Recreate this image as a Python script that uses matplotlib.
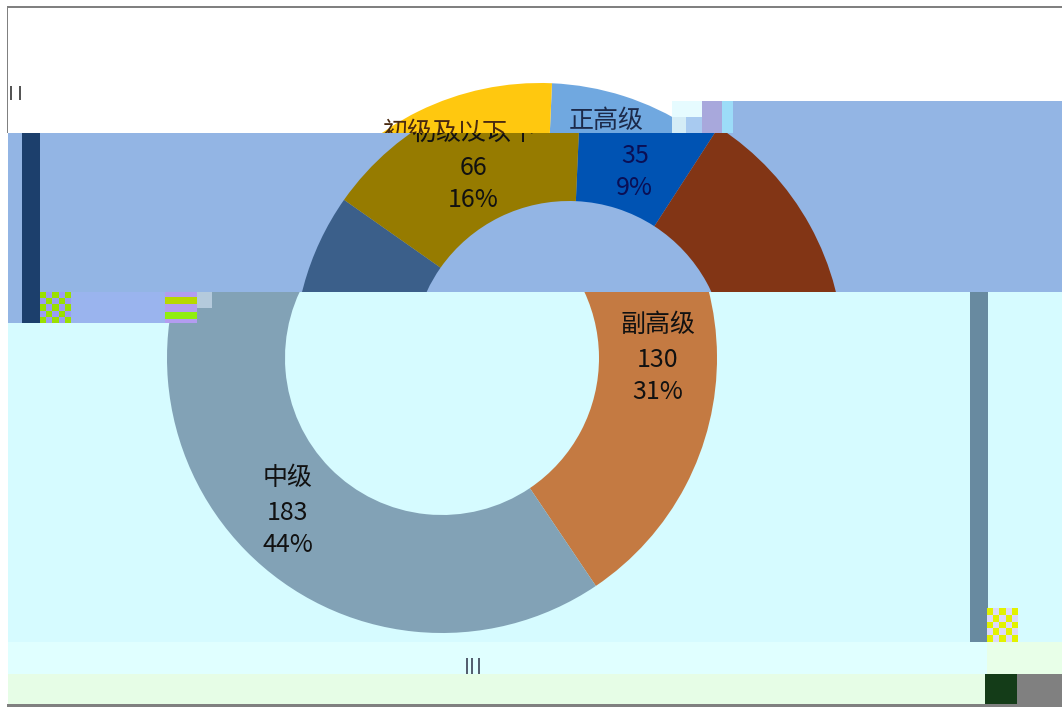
import matplotlib
matplotlib.use('Agg')
import matplotlib.pyplot as plt
from matplotlib.patches import Rectangle
from matplotlib.transforms import Bbox, TransformedBbox
import numpy as np

plt.rcParams['font.family'] = ['Noto Sans CJK SC', 'DejaVu Sans']

names = ['正高级', '副高级', '中级', '初级及以下']
values = [35, 130, 183, 66]
percents = ['9%', '31%', '44%', '16%']

top_colors = ['#70a8e0', '#c47a42', '#82a2b6', '#ffc80f']
mid_colors = ['#0053b3', '#823515', '#3b5f8a', '#967b00']
low_colors = ['#70a8e0', '#c47a42', '#82a2b6', '#ffc80f']
mid_text = ['#0a0f55', '#111111', '#111111', '#111111']

fig = plt.figure(figsize=(10.62, 7.07), dpi=100)
ax = fig.add_axes([0, 0, 1, 1])

R = 275
HOLE = 157
CY = 358
TILT = 2.5


def box(x0, y0, x1, y1, color, z=1):
    ax.add_patch(Rectangle((x0, y0), x1 - x0, y1 - y0, facecolor=color, edgecolor='none', zorder=z))


def band(cx, y0, y1, colors, text_colors):
    # the picture is broken into strips, each one holds the donut at another x
    clip = TransformedBbox(Bbox([[0, y0], [1062, y1]]), ax.transData)
    wedges, _ = ax.pie(values, colors=colors, center=(cx, CY), radius=R, startangle=-90 + TILT,
                       counterclock=True, wedgeprops={'width': R - HOLE, 'linewidth': 0})
    for w in wedges:
        w.set_zorder(2)
        w.set_clip_on(True)
        w.set_clip_box(clip)
    total = sum(values)
    start = TILT
    for i in range(len(values)):
        sweep = values[i] / total * 360
        a = np.radians(start + sweep / 2)
        start += sweep
        x = cx + (R + HOLE) / 2 * np.sin(a)
        y = CY - (R + HOLE) / 2 * np.cos(a) + 4
        for dy, s in [(-35, names[i]), (0, str(values[i])), (32, percents[i])]:
            t = ax.text(x, y + dy, s, ha='center', va='center', fontsize=18, color=text_colors[i], zorder=3)
            t.set_clip_on(True)
            t.set_clip_box(clip)


def checks(x0, y0, x1, y1, base, spot, nx, ny):
    box(x0, y0, x1, y1, base, 4)
    dx = (x1 - x0) / nx
    dy = (y1 - y0) / ny
    for j in range(ny):
        for i in range(nx):
            if (i + j) % 2 == 0:
                box(x0 + i * dx, y0 + j * dy, x0 + (i + 1) * dx, y0 + (j + 1) * dy, spot, 5)


# background strips
box(0, 0, 1062, 707, 'white', 0)
box(8, 133, 1062, 292, '#93b5e4')
box(733, 101, 1062, 133, '#93b5e4')
box(8, 292, 1062, 642, '#d6fbff')
box(8, 642, 987, 674, '#e0ffff')
box(987, 642, 1062, 674, '#e8ffe8')
box(8, 674, 985, 704, '#e6fde6')

band(540, 82, 133, top_colors, ['#1c2a4a', '#111111', '#111111', '#4a2a10'])
band(569, 133, 292, mid_colors, mid_text)
band(442, 292, 642, low_colors, ['#111111'] * 4)

# broken blocks
box(22, 133, 40, 323, '#1c3f6c', 4)
box(8, 292, 22, 323, '#93b5e4', 4)
box(40, 292, 197, 323, '#9ab4ee', 4)
checks(40, 292, 71, 323, '#9a9cf4', '#9ae000', 5, 5)
box(165, 292, 197, 323, '#b39cf0', 4)
box(165, 297, 197, 304, '#b8d800', 5)
box(165, 312, 197, 319, '#90ee10', 5)
box(197, 292, 212, 308, '#b4cadc', 4)
box(970, 292, 988, 642, '#688aa0', 4)
checks(987, 608, 1018, 642, '#dcd8fa', '#e2f200', 5, 5)
box(985, 674, 1017, 704, '#143c18', 4)
box(1017, 674, 1062, 704, '#808080', 4)
box(672, 101, 702, 117, '#e6fbff', 4)
box(672, 117, 686, 133, '#d4ecf6', 4)
box(686, 117, 702, 133, '#a8caf0', 4)
box(702, 101, 722, 133, '#a8a8dc', 4)
box(722, 101, 733, 133, '#9cdcf8', 4)

# frame lines and stray marks
box(7, 6, 1062, 8, '#808080', 6)
box(7, 6, 8, 133, '#808080', 6)
box(7, 704, 1062, 707, '#808080', 6)
for x in [10, 19]:
    box(x, 86, x + 2, 100, '#555555', 6)
for x in [466, 471, 478]:
    box(x, 658, x + 2, 674, '#556070', 6)

ax.set_xlim(0, 1062)
ax.set_ylim(707, 0)
ax.set_aspect('auto')
ax.axis('off')

fig.savefig('out.png', dpi=100)
